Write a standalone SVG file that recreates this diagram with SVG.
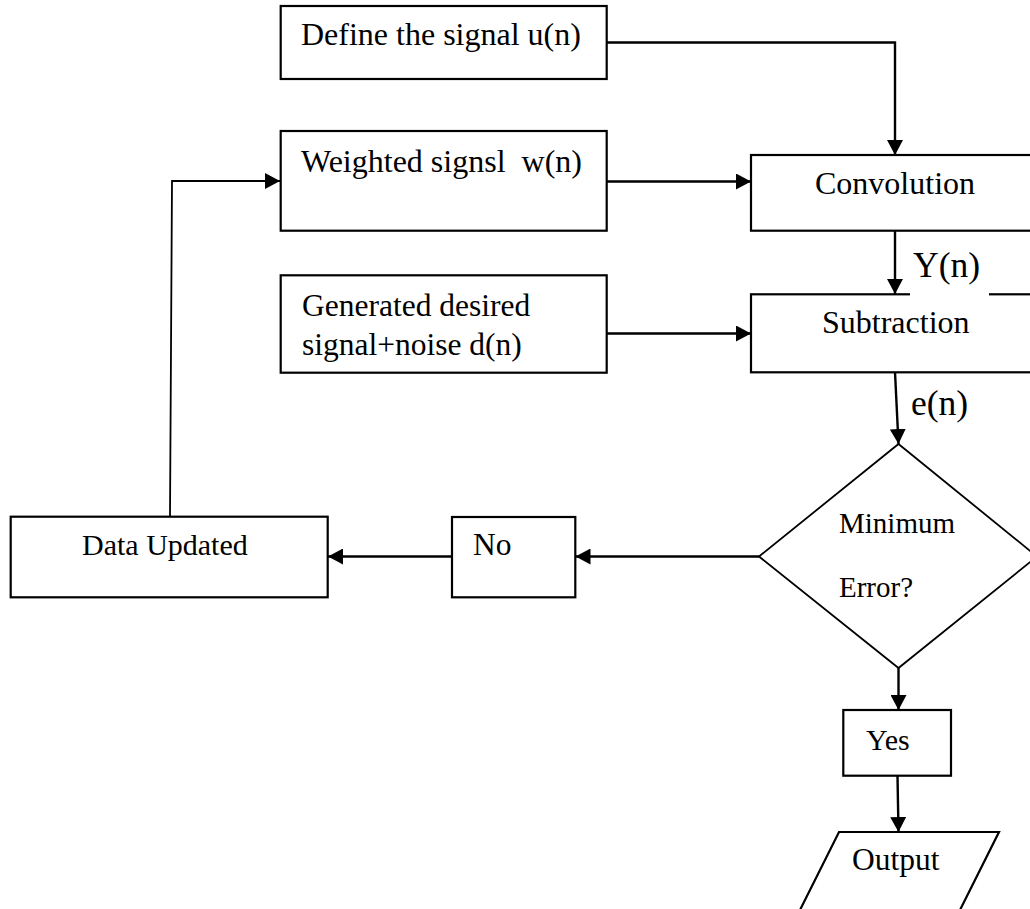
<svg xmlns="http://www.w3.org/2000/svg" width="1030" height="909" viewBox="0 0 1030 909">
  <style>
    .box { fill: #ffffff; stroke: #000000; stroke-width: 2.2; }
    .dec { fill: #ffffff; stroke: #000000; stroke-width: 1.8; }
    .edge { fill: none; stroke: #000000; stroke-width: 2.4; }
    .thin { fill: none; stroke: #000000; stroke-width: 1.8; }
    text { font-family: "Liberation Serif", "Times New Roman", serif; fill: #000000; }
    .t32 { font-size: 32px; }
    .t31 { font-size: 31.5px; }
    .t30 { font-size: 30px; }
    .t29 { font-size: 29px; }
    .lbl { font-size: 35.5px; }
  </style>
  <defs>
    <marker id="arrow" markerUnits="userSpaceOnUse" markerWidth="15" markerHeight="16" refX="15" refY="8" orient="auto">
      <path d="M0,0 L15,8 L0,16 Z" fill="#000000"/>
    </marker>
  </defs>

  <rect width="1030" height="909" fill="#ffffff"/>

  <!-- connectors -->
  <g id="connectors">
    <polyline class="edge" points="607,42.5 895,42.5 895,155" marker-end="url(#arrow)"/>
    <line class="edge" x1="607" y1="181.5" x2="751" y2="181.5" marker-end="url(#arrow)"/>
    <line class="edge" x1="895" y1="231" x2="895" y2="294" marker-end="url(#arrow)"/>
    <line class="edge" x1="607" y1="333.5" x2="751" y2="333.5" marker-end="url(#arrow)"/>
    <line class="edge" x1="895" y1="372" x2="898.5" y2="444" marker-end="url(#arrow)"/>
    <line class="edge" x1="759" y1="556.5" x2="575.5" y2="556.5" marker-end="url(#arrow)"/>
    <line class="edge" x1="452" y1="556.5" x2="328" y2="556.5" marker-end="url(#arrow)"/>
    <polyline class="thin" points="170,517 172,181 280,181" marker-end="url(#arrow)"/>
    <line class="edge" x1="898.5" y1="668" x2="898.5" y2="710" marker-end="url(#arrow)"/>
    <line class="edge" x1="897.5" y1="776" x2="898.5" y2="832" marker-end="url(#arrow)"/>
  </g>

  <g id="define">
    <rect class="box" x="280.7" y="6" width="326" height="73"/>
    <text class="t32" x="301" y="45">Define the signal u(n)</text>
  </g>

  <g id="weighted">
    <rect class="box" x="280.7" y="131" width="326" height="99.7"/>
    <text class="t32" x="301" y="172">Weighted signsl&#160; w(n)</text>
  </g>

  <g id="generated">
    <rect class="box" x="280.7" y="275.3" width="326" height="97.4"/>
    <text class="t31" x="302" y="316">Generated desired</text>
    <text class="t31" x="302" y="355">signal+noise d(n)</text>
  </g>

  <g id="convolution">
    <rect class="box" x="751" y="155" width="300" height="75.7"/>
    <text class="t32" x="815" y="194">Convolution</text>
  </g>

  <g id="subtraction">
    <rect class="box" x="751" y="294.3" width="300" height="78"/>
    <text class="t32" x="822" y="333">Subtraction</text>
  </g>

  <!-- edge labels on the signal path -->
  <g id="label-y">
    <rect x="910" y="250" width="79" height="46" fill="#ffffff"/>
    <text class="lbl" x="913" y="277">Y(n)</text>
  </g>
  <g id="label-e">
    <text class="lbl" x="911" y="415">e(n)</text>
  </g>

  <g id="decision">
    <polygon class="dec" points="898.5,444 1037,556.5 898.5,668 759,556.5"/>
    <text class="t29" x="839" y="533">Minimum</text>
    <text class="t29" x="839" y="597">Error?</text>
  </g>

  <g id="no">
    <rect class="box" x="452" y="517" width="123.3" height="80.3"/>
    <text class="t31" x="473" y="555">No</text>
  </g>

  <g id="data-updated">
    <rect class="box" x="10.7" y="516.7" width="317" height="80.6"/>
    <text class="t30" x="82" y="555">Data Updated</text>
  </g>

  <g id="yes">
    <rect class="box" x="843.3" y="710" width="107.7" height="65.7"/>
    <text class="t30" x="866" y="750">Yes</text>
  </g>

  <g id="output">
    <polygon class="box" points="839,832 999,832 940,950 780,950"/>
    <text class="t31" x="852" y="870">Output</text>
  </g>
</svg>
